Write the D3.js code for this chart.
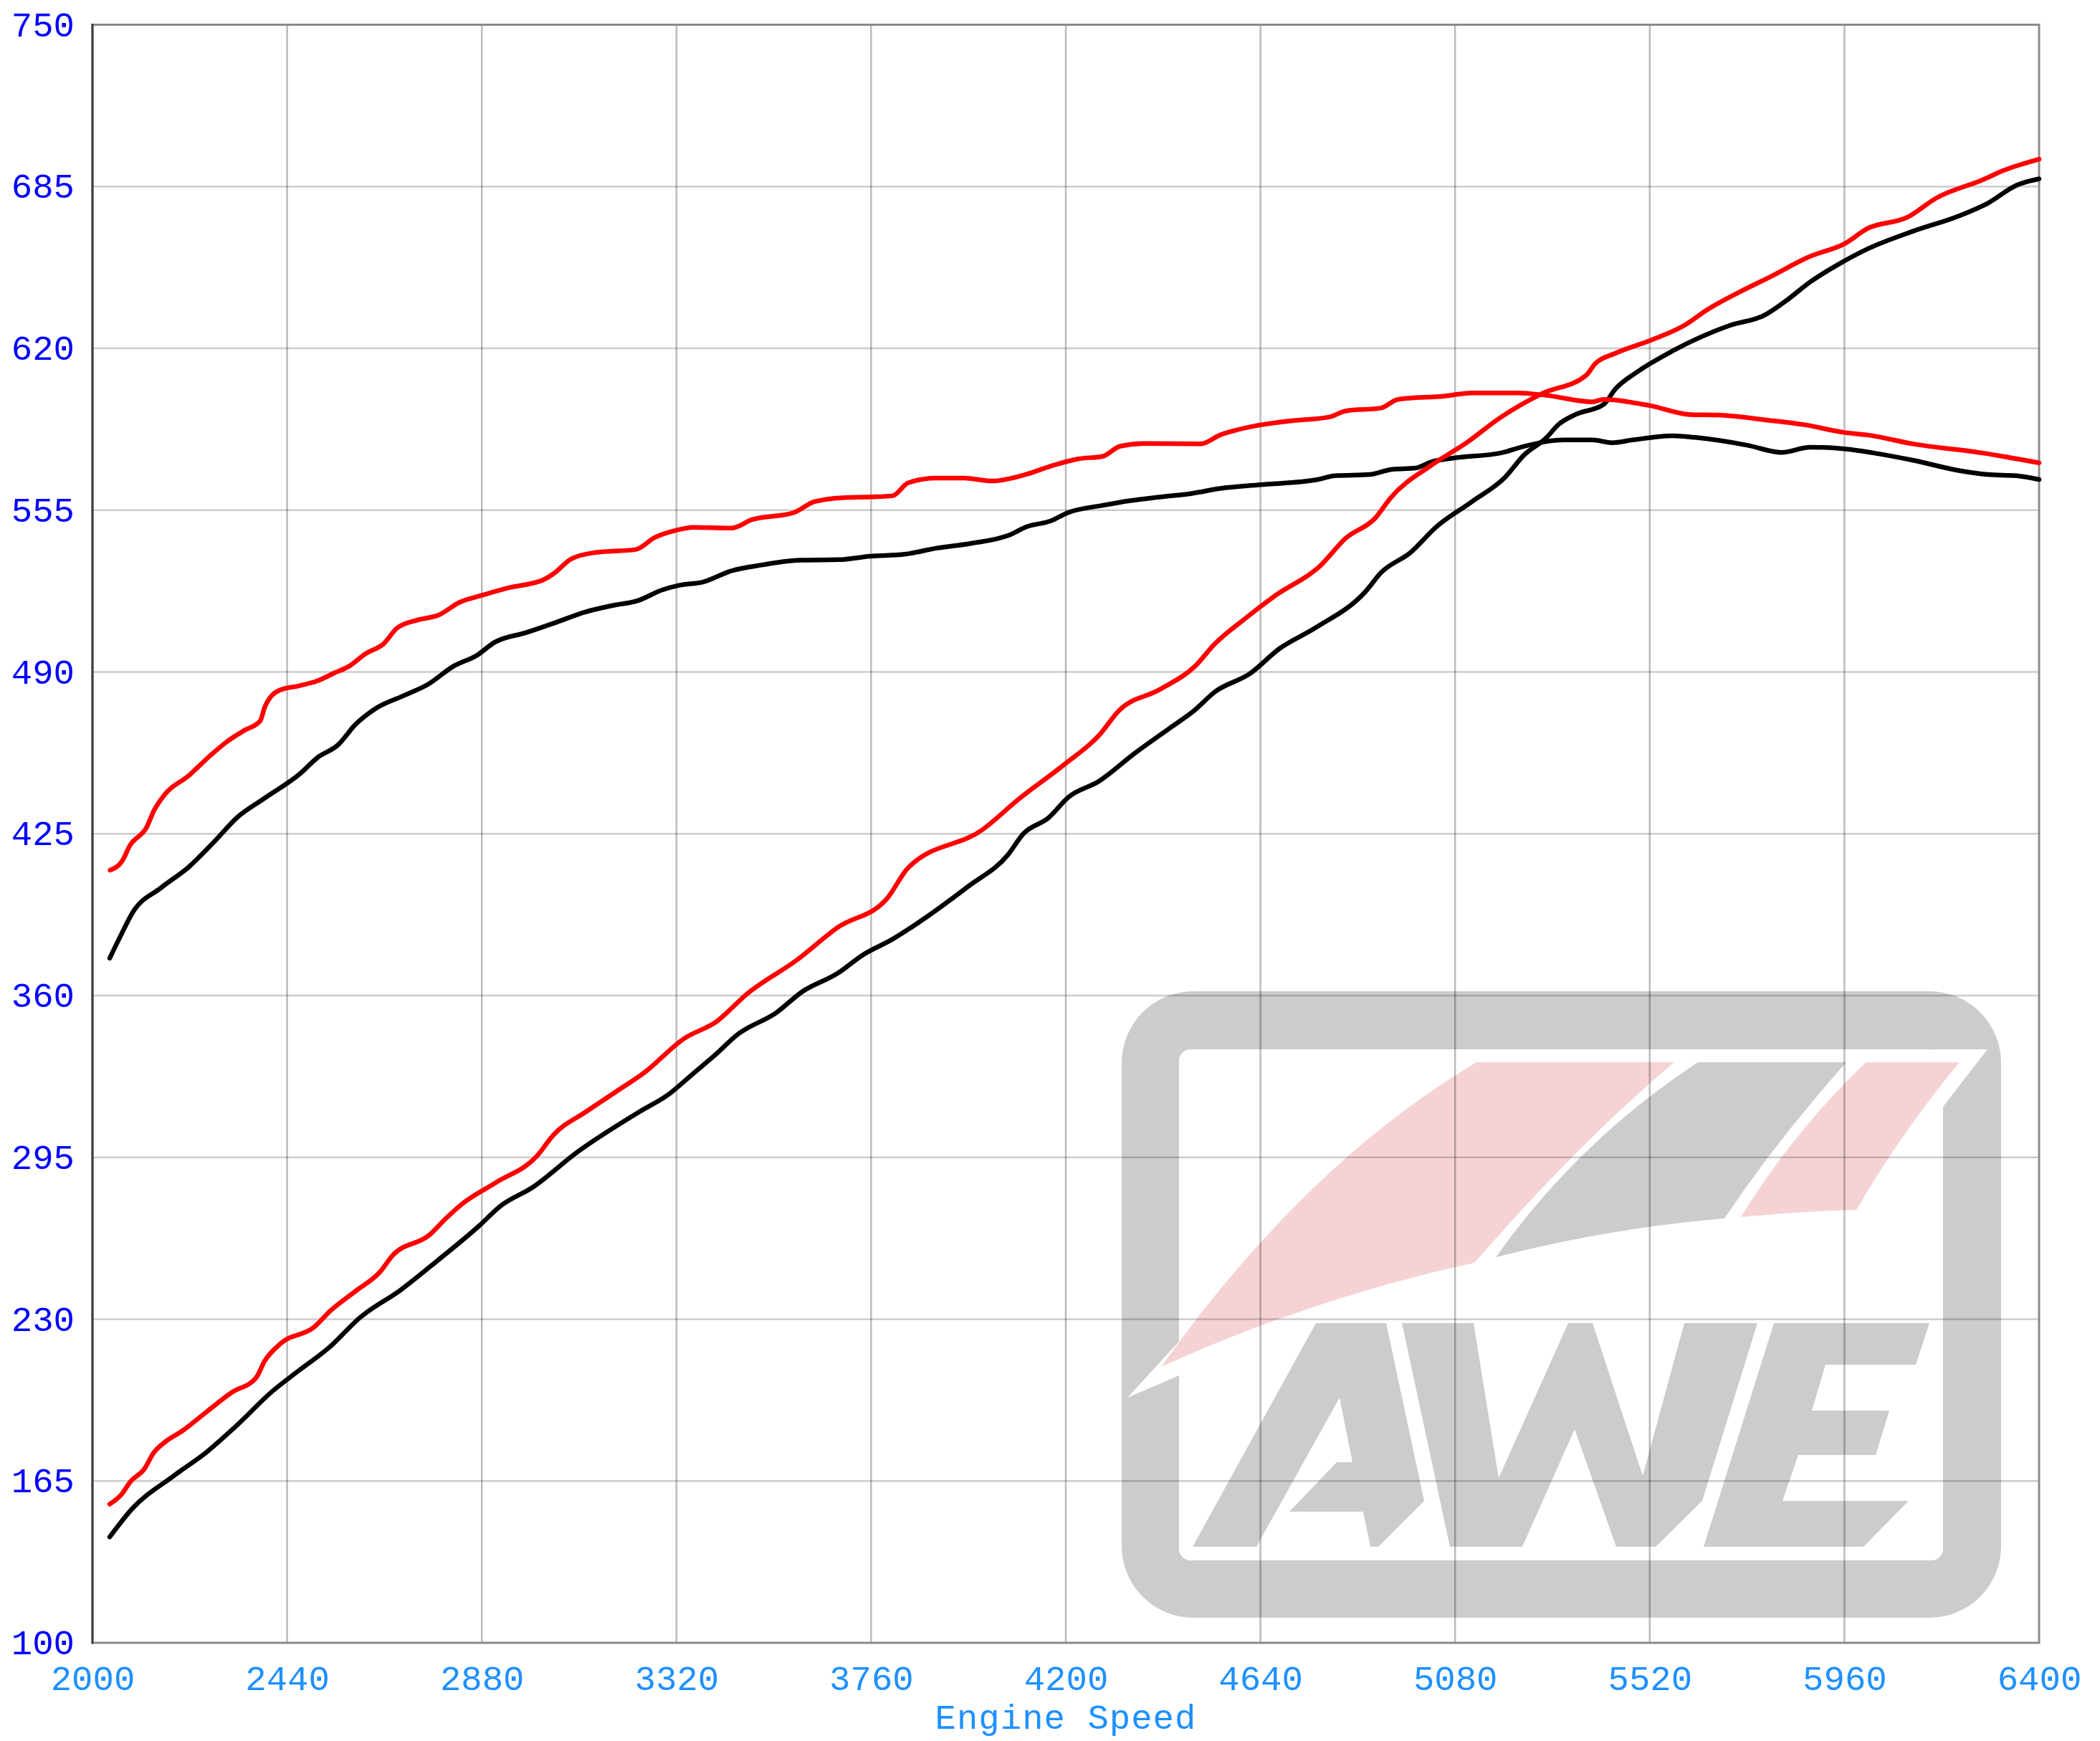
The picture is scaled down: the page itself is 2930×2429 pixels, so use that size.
<!DOCTYPE html>
<html><head><meta charset="utf-8">
<script src="https://cdn.jsdelivr.net/npm/d3@7"></script>
<style>
html,body{margin:0;padding:0;background:#fff;}
svg{display:block;}
</style></head>
<body>
<svg id="chart" width="2930" height="2429"></svg>
<script>
// ---------- DATA ----------
const xTicks = [2000, 2440, 2880, 3320, 3760, 4200, 4640, 5080, 5520, 5960, 6400];
const yTicks = [100, 165, 230, 295, 360, 425, 490, 555, 620, 685, 750];
const xTitle = "Engine Speed";

const redTorqueRpm = [2040,2068,2084,2123,2139,2163,2218,2265,2304,2343,2379,2390,2422,2469,2508,2548,2579,2618,2658,2689,2736,2783,2830,2877,2940,3019,3043,3082,3137,3228,3271,3319,3358,3444,3491,3585,3632,3695,3760,3809,3844,3907,3970,4033,4111,4166,4228,4283,4323,4377,4504,4549,4627,4705,4795,4834,4912,4951,5054,5119,5222,5287,5390,5416,5520,5611,5675,5779,5870,5960,6012,6116,6271,6400];
const redTorqueVal = [410.4,414.3,420.1,427.8,434.3,440.7,448.4,456.2,462,466.5,470.3,476.1,482.6,484.5,486.4,489.7,492.2,497.4,501.3,507.7,510.9,512.9,518,520.6,523.8,527,529.6,535.4,538,539.2,544,546.9,548.1,547.8,551.2,554,558.4,560,560.3,560.8,566,567.9,567.9,566.7,569.4,572.7,575.6,576.6,580.7,581.8,581.6,585.2,588.8,590.8,592.4,594.9,596,599.5,600.8,602.1,602.1,601.1,598.5,599.5,597,593.4,593.2,591.3,589.3,586.2,585.2,581.6,578,574];

const blackTorqueRpm = [2039,2060,2092,2155,2218,2273,2328,2390,2469,2508,2555,2595,2642,2705,2760,2815,2870,2909,2980,3043,3114,3176,3232,3287,3326,3381,3444,3514,3600,3687,3758,3836,3907,3985,4071,4111,4166,4205,4283,4346,4415,4485,4549,4640,4770,4808,4886,4938,4990,5028,5080,5184,5235,5326,5390,5435,5481,5572,5623,5740,5818,5882,5960,6025,6116,6219,6284,6349,6400];
const blackTorqueVal = [375,382.7,393.7,403.3,411.7,421.4,431.7,439.4,449.1,455.5,460.7,469,475.5,480.6,485.2,492.2,496.8,501.9,505.8,509.6,514.1,516.7,518.6,522.9,524.8,526.2,530.6,533,534.9,535.1,536.5,537.3,539.7,541.6,544.9,548.3,550.7,554,556.9,558.8,560.3,561.7,563.7,565.2,567.3,568.8,569.3,571.4,571.9,574.5,576,578,580.6,583.2,583.2,582.1,583.2,584.9,584.2,581.1,578.2,580.3,579.6,578,575,570.9,569.3,568.8,567.3];

const redPowerRpm = [2039,2067,2085,2118,2137,2165,2202,2258,2314,2370,2389,2426,2501,2538,2594,2650,2678,2762,2799,2837,2911,3005,3042,3117,3180,3247,3337,3411,3479,3593,3684,3797,3843,4013,4093,4195,4275,4321,4412,4491,4537,4605,4673,4775,4832,4900,4935,5026,5106,5184,5274,5377,5397,5442,5520,5598,5649,5727,5792,5882,5960,6012,6103,6168,6271,6323,6400];
const redPowerVal = [155.7,159.9,164.6,170,176,180.8,185,192.8,200.5,206.5,213.1,220.3,226.8,233.4,241.2,249,255.5,263.9,270.5,276.5,284.8,295.6,304,313.5,321,329,342.7,349.6,360.6,374.4,387.3,399.2,411.2,426.8,438.8,452.6,464.5,474.6,482.9,492.1,501.3,511.4,520.6,532.6,543.6,551.9,560.1,573,582.1,592.4,601.6,609.3,613.9,618,623.1,629.2,635.4,643,648.7,656.9,662,668.1,672.7,680.4,687.6,691.7,696];

const blackPowerRpm = [2039,2090,2183,2258,2323,2407,2463,2538,2603,2697,2781,2874,2921,2995,3098,3238,3300,3360,3411,3456,3547,3604,3684,3741,3809,3888,3979,4070,4104,4161,4206,4275,4355,4434,4491,4537,4616,4684,4764,4878,4912,4980,5037,5117,5194,5235,5287,5313,5352,5416,5442,5494,5572,5701,5779,5831,5882,5947,6012,6116,6219,6284,6349,6400];
const blackPowerVal = [142.5,153.9,167,176.6,186.8,201.1,208.9,219.1,230.4,241.8,253.7,267.5,275.3,283,297.4,313.5,320,329,336.7,344.1,353.3,361.5,368.9,376.3,382.7,391.9,403.8,416.7,425,431.4,439.7,446.1,457.2,467.3,474.6,482,489.3,499.5,507.7,522.4,529.8,538.1,548.2,558.3,568.4,577,584.2,589.3,593.4,597.5,603.6,610.8,619,629.2,633.3,639.5,646.6,653.8,659.9,667.1,673.2,678.3,685.5,688.1];

// ---------- LAYOUT ----------
const W = 2930, H = 2429;
const m = {left: 129, right: 2845, top: 34.5, bottom: 2292};
const FONT = "'Courier New', 'Liberation Mono', monospace";

const x = d3.scaleLinear().domain([xTicks[0], xTicks[xTicks.length-1]]).range([m.left, m.right]);
const y = d3.scaleLinear().domain([yTicks[0], yTicks[yTicks.length-1]]).range([m.bottom, m.top]);

const svg = d3.select('#chart');
svg.append('rect').attr('width', W).attr('height', H).attr('fill', '#fff');

// ---------- WATERMARK LOGO (decoration) ----------
const logo = svg.append('g').attr('class', 'logo');
const GRAY = '#cccccc', PINK = '#f5d3d5';
logo.append('rect').attr('x', 1565).attr('y', 1383).attr('width', 1227).attr('height', 874).attr('rx', 100).attr('fill', GRAY);
logo.append('rect').attr('x', 1645).attr('y', 1464).attr('width', 1066).attr('height', 713).attr('rx', 16).attr('fill', '#fff');
logo.append('path').attr('d', 'M2700,1464 L2773,1464 L2711,1544 L2700,1544 Z').attr('fill', '#fff');
logo.append('path').attr('d', 'M1652,1864 L1573,1950 L1652,1916 Z').attr('fill', '#fff');
// swooshes
logo.append('path').attr('fill', PINK)
  .attr('d', 'M2060,1482 L2336,1482 Q2203,1594 2057,1762 Q1837,1809 1620,1907 Q1820,1625 2060,1482 Z');
logo.append('path').attr('fill', GRAY)
  .attr('d', 'M2369,1482 L2576,1482 Q2479,1591 2406,1700 Q2248,1713 2087,1754 Q2202,1592 2369,1482 Z');
logo.append('path').attr('fill', PINK)
  .attr('d', 'M2603,1482 L2734,1482 Q2652,1581 2590,1688 Q2510,1690 2429,1698 Q2500,1582 2603,1482 Z');
// letters
const letterA = [[1664,2158],[1836,1846],[1934,1846],[1987,2094],[1923,2158],[1912,2158],[1902,2109],[1799,2109],[1865,2040],[1887,2040],[1869,1950],[1753,2158]];
const letterW = [[1956,1846],[2056,1846],[2091,2062],[2188,1846],[2222,1846],[2292,2059],[2350,1846],[2452,1846],[2375,2094],[2310,2158],[2255,2158],[2197,1994],[2124,2158],[2023,2158]];
const letterE = [[2475,1846],[2692,1846],[2673,1904],[2547,1904],[2528,1968],[2636,1968],[2617,2030],[2509,2030],[2487,2094],[2663,2094],[2600,2158],[2377,2158]];
[letterA, letterW, letterE].forEach(p => {
  logo.append('path').attr('d', 'M' + p.map(q => q.join(',')).join('L') + 'Z').attr('fill', GRAY);
});

// ---------- GRID ----------
const grid = svg.append('g').attr('class', 'grid');
grid.selectAll('line.h').data(yTicks.slice(1, -1)).enter().append('line')
  .attr('x1', m.left).attr('x2', m.right)
  .attr('y1', d => y(d)).attr('y2', d => y(d))
  .attr('stroke', 'rgba(0,0,0,0.2)').attr('stroke-width', 2.5);
grid.selectAll('line.v').data(xTicks.slice(1, -1)).enter().append('line')
  .attr('y1', m.top).attr('y2', m.bottom)
  .attr('x1', d => x(d)).attr('x2', d => x(d))
  .attr('stroke', 'rgba(0,0,0,0.27)').attr('stroke-width', 2.5);

// frame
svg.append('rect').attr('x', m.left).attr('y', m.top)
  .attr('width', m.right - m.left).attr('height', m.bottom - m.top)
  .attr('fill', 'none').attr('stroke', '#8a8a8a').attr('stroke-width', 3);
svg.append('line').attr('x1', m.left).attr('x2', m.left).attr('y1', m.top - 1.5).attr('y2', m.bottom + 1.5)
  .attr('stroke', '#3c3c3c').attr('stroke-width', 3);

// ---------- CURVES ----------
const line = d3.line().x(d => x(d[0])).y(d => y(d[1])).curve(d3.curveMonotoneX);
const series = [
  {rpm: blackTorqueRpm, val: blackTorqueVal, color: '#000000'},
  {rpm: blackPowerRpm, val: blackPowerVal, color: '#000000'},
  {rpm: redTorqueRpm, val: redTorqueVal, color: '#ff0000'},
  {rpm: redPowerRpm, val: redPowerVal, color: '#ff0000'}
];
svg.append('g').attr('class', 'curves').selectAll('path').data(series).enter().append('path')
  .attr('d', s => line(s.rpm.map((r, i) => [r, s.val[i]])))
  .attr('fill', 'none').attr('stroke', s => s.color)
  .attr('stroke-width', 6.5).attr('stroke-linejoin', 'round').attr('stroke-linecap', 'round');

// ---------- AXES ----------
const yAxis = svg.append('g').attr('transform', `translate(${m.left},0)`)
  .call(d3.axisLeft(y).tickValues(yTicks).tickSize(0).tickPadding(25).tickFormat(d3.format('d')));
yAxis.select('.domain').remove();
yAxis.selectAll('text').attr('font-family', FONT).attr('font-size', 49).attr('fill', '#0000ff');

const xAxis = svg.append('g').attr('transform', `translate(0,${m.bottom})`)
  .call(d3.axisBottom(x).tickValues(xTicks).tickSize(0).tickPadding(31).tickFormat(d3.format('d')));
xAxis.select('.domain').remove();
xAxis.selectAll('text').attr('font-family', FONT).attr('font-size', 49).attr('fill', '#1e90ff');

svg.append('text').attr('x', (m.left + m.right) / 2).attr('y', 2412)
  .attr('text-anchor', 'middle').attr('font-family', FONT).attr('font-size', 49)
  .attr('letter-spacing', 1).attr('fill', '#1e90ff').text(xTitle);
</script>
</body></html>
